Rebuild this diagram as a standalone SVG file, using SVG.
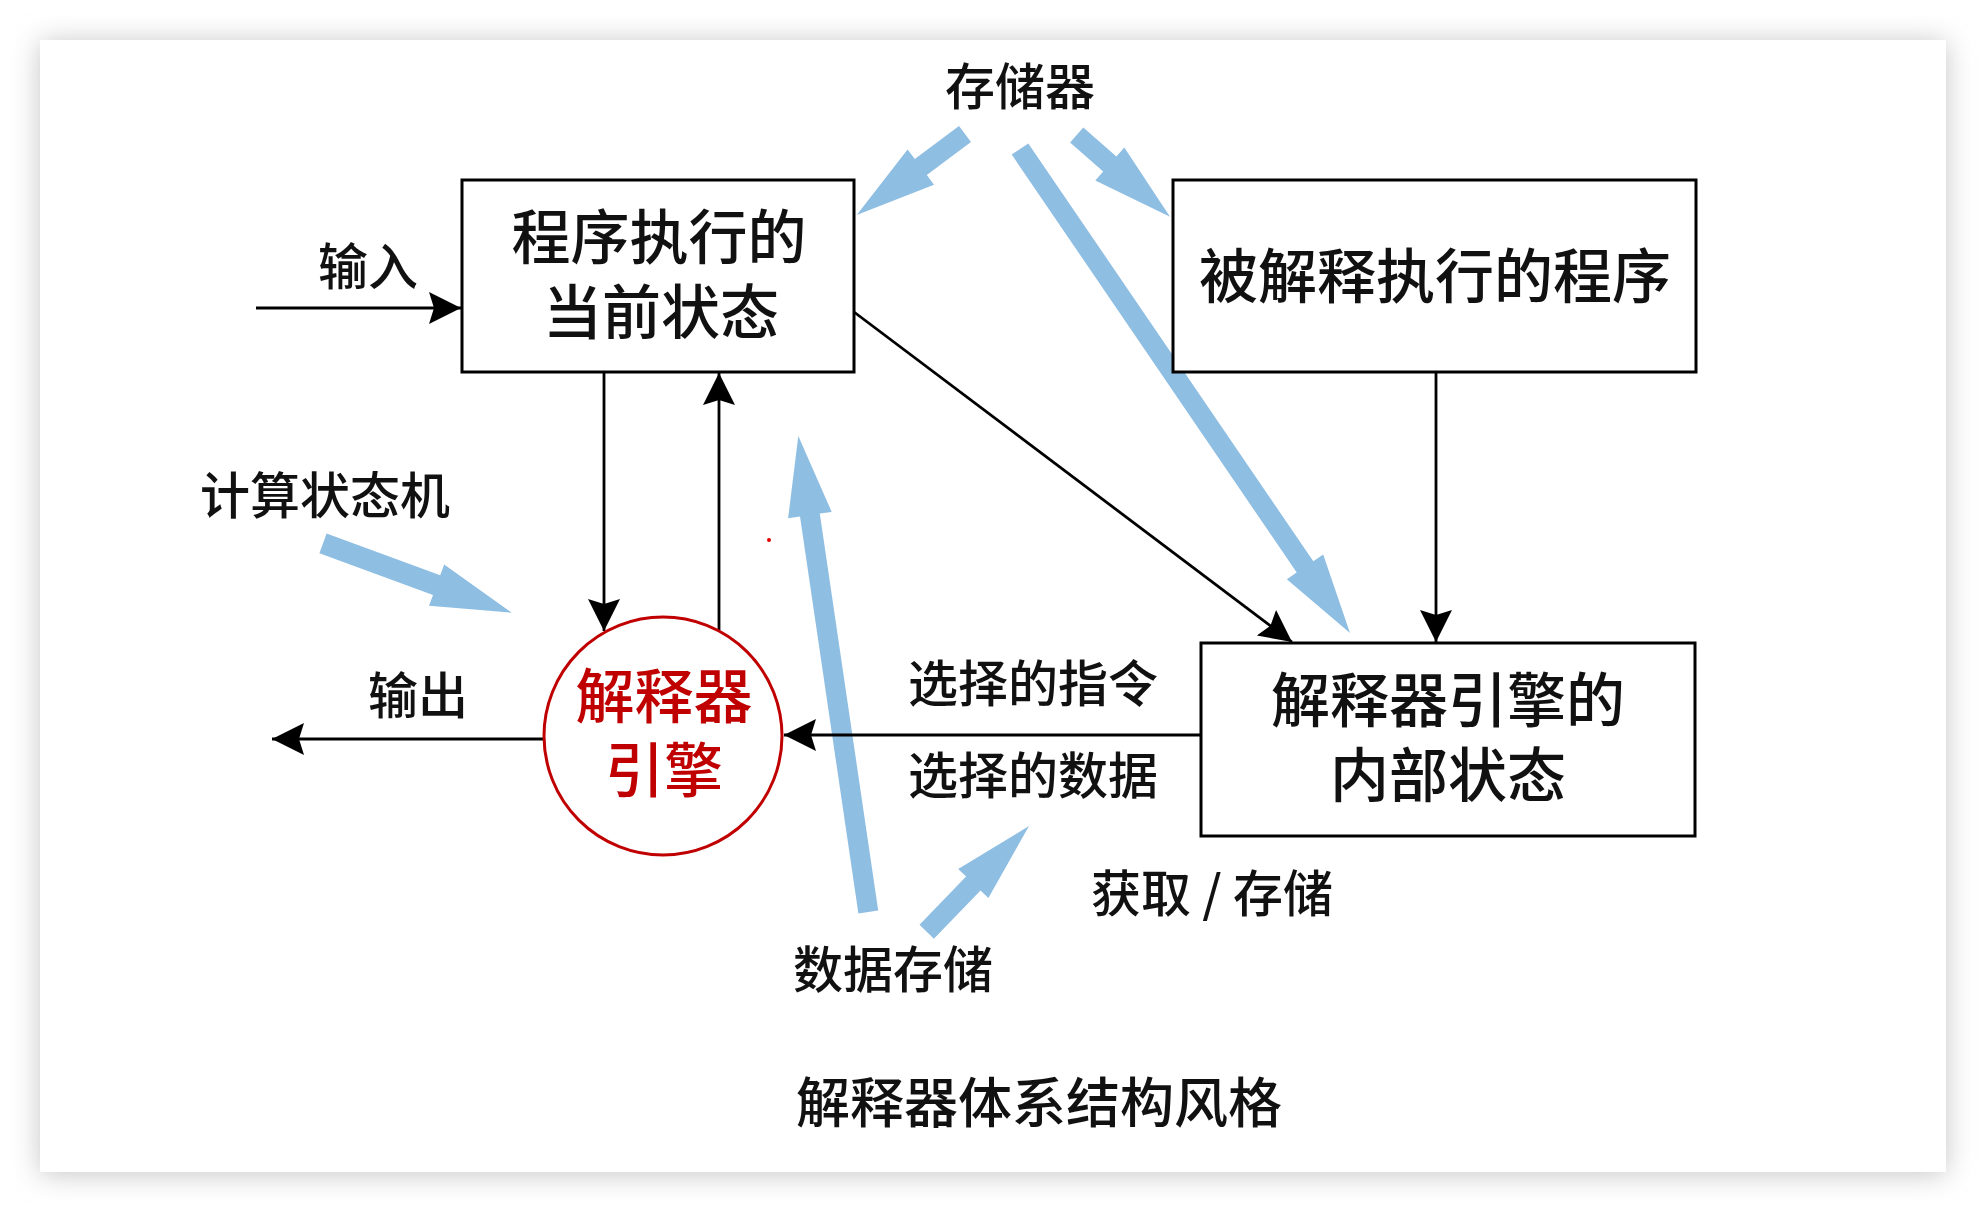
<svg xmlns="http://www.w3.org/2000/svg" width="1986" height="1212" viewBox="0 0 1986 1212">
  <defs>
    <filter id="shadow" x="-10%" y="-10%" width="120%" height="120%">
      <feGaussianBlur stdDeviation="14"/>
    </filter>
    <marker id="ah" markerUnits="userSpaceOnUse" markerWidth="34" markerHeight="34" viewBox="0 0 34 34" refX="32" refY="16" orient="auto">
      <path d="M0,0 L32,16 L0,32 L5,16 Z" fill="#000"/>
    </marker>
    <style>
      .box { fill: #fff; stroke: #000; stroke-width: 3; }
      .conn { stroke: #000; stroke-width: 2.8; fill: none; marker-end: url(#ah); }
      .blue { fill: #8fbee3; stroke: none; }
      .t { font-family: "Noto Sans CJK SC", "Noto Sans", sans-serif; font-weight: 500; fill: #111; text-anchor: middle; }
      .big { font-size: 59px; }
      .lbl { font-size: 50px; }
      .red { fill: #c00000; }
    </style>
  </defs>

  <rect x="0" y="0" width="1986" height="1212" fill="#fff"/>
  <rect x="40" y="42" width="1906" height="1132" fill="#c4c4c4" filter="url(#shadow)"/>
  <rect x="40" y="40" width="1906" height="1132" fill="#fff"/>

  <g id="blue-arrows">
    <polygon class="blue" points="959,126 914.8,159.1 907.6,149.5 856.7,215 934,184.7 926.8,175.1 971,142"/>
    <polygon class="blue" points="1070.1,142.5 1103.2,171.5 1095.3,180.5 1170,216.7 1124.3,147.5 1116.4,156.5 1083.3,127.5"/>
    <polygon class="blue" points="1011.7,154.6 1296.7,572.5 1286.8,579.3 1350,633 1323.2,554.5 1313.3,561.3 1028.3,143.4"/>
    <polygon class="blue" points="319.4,553.2 433,595 429,605.8 511.7,612.7 444.2,564.4 440.2,575.2 326.6,533.4"/>
    <polygon class="blue" points="878.2,910.5 819.8,513.6 831.7,511.9 798.3,436 788.1,518.3 800,516.6 858.4,913.5"/>
    <polygon class="blue" points="933.9,938.7 980.5,890.5 988.4,898.1 1029,826 958.2,868.9 966.1,876.5 919.5,924.7"/>
  </g>

  <g id="connectors">
    <line class="conn" x1="256" y1="308" x2="461" y2="308"/>
    <line class="conn" x1="543" y1="739" x2="272" y2="739"/>
    <line class="conn" x1="604" y1="372" x2="604" y2="631"/>
    <line class="conn" x1="719" y1="630" x2="719" y2="373"/>
    <line class="conn" x1="854" y1="312" x2="1292" y2="642"/>
    <line class="conn" x1="1436" y1="372" x2="1436" y2="642"/>
    <line class="conn" x1="1201" y1="735" x2="784" y2="735"/>
  </g>

  <g id="node-current-state">
    <rect class="box" x="462" y="180" width="392" height="192"/>
    <text class="t big" x="659" y="259">程序执行的</text>
    <text class="t big" x="661" y="334">当前状态</text>
  </g>

  <g id="node-program">
    <rect class="box" x="1173" y="180" width="523" height="192"/>
    <text class="t big" x="1435" y="298">被解释执行的程序</text>
  </g>

  <g id="node-internal-state">
    <rect class="box" x="1201" y="643" width="494" height="193"/>
    <text class="t big" x="1448" y="722">解释器引擎的</text>
    <text class="t big" x="1448" y="797">内部状态</text>
  </g>

  <g id="node-engine">
    <circle cx="663" cy="736" r="119" fill="#fff" stroke="#c00000" stroke-width="3"/>
    <text class="t big red" x="664" y="718">解释器</text>
    <text class="t big red" x="664" y="792">引擎</text>
  </g>

  <g id="labels">
    <text class="t lbl" x="1020" y="105">存储器</text>
    <text class="t lbl" x="368" y="285">输入</text>
    <text class="t lbl" x="325" y="514">计算状态机</text>
    <text class="t lbl" x="418" y="714">输出</text>
    <text class="t lbl" x="1033" y="702">选择的指令</text>
    <text class="t lbl" x="1033" y="794">选择的数据</text>
    <text class="t lbl" x="1212" y="912">获取 / 存储</text>
    <text class="t lbl" x="893" y="988">数据存储</text>
    <text class="t" style="font-size:54px" x="1039" y="1123">解释器体系结构风格</text>
  </g>

  <circle cx="769" cy="540" r="2" fill="#e00000"/>
</svg>
